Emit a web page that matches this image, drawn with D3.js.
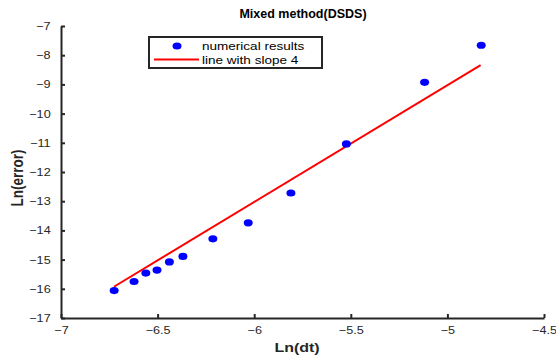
<!DOCTYPE html>
<html>
<head>
<meta charset="utf-8">
<script src="https://cdn.jsdelivr.net/npm/d3@7"></script>
<style>
    body { margin: 0; background: #fff; }
    svg { font-family: "Liberation Sans", Arial, sans-serif; }
</style>
</head>
<body>
<svg id="chart"></svg>
<script>
"use strict";

// Numerical results: ln(dt) and ln(error)
const lnDt = [-6.725, -6.622, -6.561, -6.503, -6.439, -6.369, -6.214, -6.031, -5.810, -5.523, -5.118, -4.825];
const lnError = [-16.06, -15.75, -15.46, -15.36, -15.08, -14.89, -14.29, -13.74, -12.72, -11.04, -8.93, -7.66];

// Reference line with slope 4 (end points)
const slopeX = [-6.726, -4.828];
const slopeY = [-15.93, -8.34];

// Tick values
const xTicks = [-7, -6.5, -6, -5.5, -5, -4.5];
const yTicks = [-17, -16, -15, -14, -13, -12, -11, -10, -9, -8, -7];

const titleText = "Mixed method(DSDS)";
const legendLabels = ["numerical results", "line with slope 4"];

const width = 556, height = 355;
const margin = {top: 26, right: 12, bottom: 37, left: 61};
const axisColor = "#262626";
// the picture is a bit wider than tall, text is stretched with it
const stretch = 1.23,
    tickStretch = 1.15;

const svg = d3.select("#chart")
    .attr("width", width)
    .attr("height", height);

const x = d3.scaleLinear()
    .domain([-7, -4.5])
    .range([margin.left, width - margin.right]);

const y = d3.scaleLinear()
    .domain([-17, -7])
    .range([height - margin.bottom, margin.top]);

// Axes with inward ticks
const xAxis = svg.append("g")
    .attr("transform", `translate(0,${height - margin.bottom})`)
    .call(d3.axisBottom(x).tickValues(xTicks).tickSizeInner(-4).tickSizeOuter(0).tickPadding(8)
        .tickFormat(d3.format("")));

const yAxis = svg.append("g")
    .attr("transform", `translate(${margin.left},0)`)
    .call(d3.axisLeft(y).tickValues(yTicks).tickSizeInner(-4).tickSizeOuter(0).tickPadding(9)
        .tickFormat(d3.format("")));

[xAxis, yAxis].forEach((a) => {
    a.select(".domain").attr("stroke", axisColor).attr("stroke-width", 2);
    a.selectAll(".tick line").attr("stroke", axisColor).attr("stroke-width", 2);
    a.selectAll(".tick text")
        .attr("fill", axisColor)
        .attr("transform", `scale(${tickStretch},1)`)
        .style("font-size", "11px")
        .style("font-family", "'Liberation Sans', Arial, sans-serif");
});

// Reference line
svg.append("line")
    .attr("x1", x(slopeX[0]))
    .attr("y1", y(slopeY[0]))
    .attr("x2", x(slopeX[1]))
    .attr("y2", y(slopeY[1]))
    .attr("stroke", "#ff0000")
    .attr("stroke-width", 2);

// Data points
svg.append("g")
    .selectAll("ellipse")
    .data(lnDt)
    .join("ellipse")
    .attr("cx", (d) => x(d))
    .attr("cy", (d, i) => y(lnError[i]))
    .attr("rx", 4.5)
    .attr("ry", 3.6)
    .attr("fill", "#0000ff");

// Title
svg.append("text")
    .attr("transform", "translate(303,18)")
    .attr("text-anchor", "middle")
    .style("font-size", "12.5px")
    .style("font-weight", "bold")
    .attr("fill", "#000")
    .text(titleText);

// Axis labels
svg.append("text")
    .attr("transform", `translate(297,352) scale(${stretch},1)`)
    .attr("text-anchor", "middle")
    .style("font-size", "13px")
    .style("font-weight", "bold")
    .attr("fill", axisColor)
    .text("Ln(dt)");

svg.append("text")
    .attr("transform", `translate(23,178) scale(${stretch},1) rotate(-90)`)
    .attr("text-anchor", "middle")
    .style("font-size", "13.5px")
    .style("font-weight", "bold")
    .attr("fill", axisColor)
    .text("Ln(error)");

// Legend
const legend = svg.append("g");
legend.append("rect")
    .attr("x", 149)
    .attr("y", 37)
    .attr("width", 173)
    .attr("height", 31)
    .attr("fill", "#fff")
    .attr("stroke", axisColor)
    .attr("stroke-width", 2);

legend.append("ellipse")
    .attr("cx", 177)
    .attr("cy", 46)
    .attr("rx", 4.5)
    .attr("ry", 3.6)
    .attr("fill", "#0000ff");

legend.append("line")
    .attr("x1", 154)
    .attr("x2", 199)
    .attr("y1", 59.5)
    .attr("y2", 59.5)
    .attr("stroke", "#ff0000")
    .attr("stroke-width", 2);

legend.selectAll("text")
    .data(legendLabels)
    .join("text")
    .attr("transform", (d, i) => `translate(202,${50 + i * 14}) scale(${stretch},1)`)
    .style("font-size", "11px")
    .attr("fill", "#000")
    .text((d) => d);
</script>
</body>
</html>
